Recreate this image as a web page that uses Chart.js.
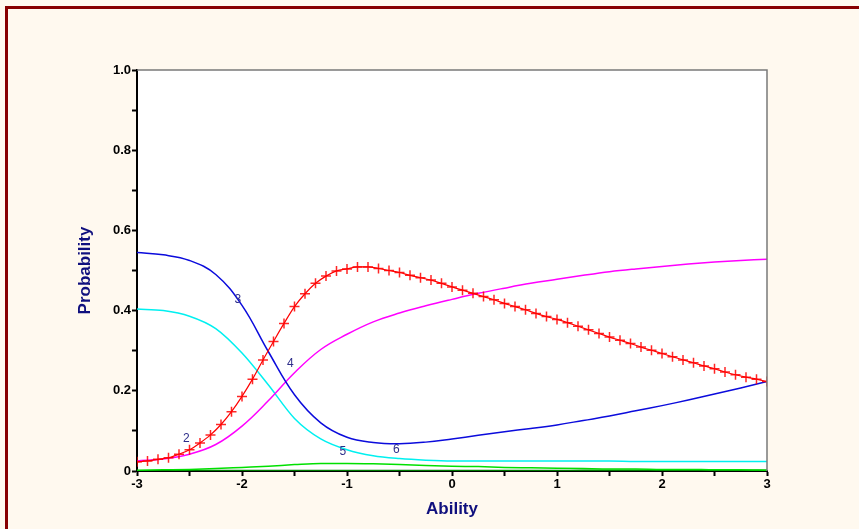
<!DOCTYPE html>
<html>
<head>
<meta charset="utf-8">
<script src="https://cdn.jsdelivr.net/npm/chart.js@4.4.1/dist/chart.umd.min.js"></script>
<style>
  html, body { margin: 0; padding: 0; background: #fff9ef; overflow: hidden; }
  #wrap { position: relative; width: 859px; height: 529px; }
  #frame { position: absolute; left: 5px; top: 6px; width: 900px; height: 600px;
           border-top: 3px solid #880000; border-left: 3px solid #880000; }
  canvas { position: absolute; left: 0; top: 0; }
</style>
</head>
<body>
<div id="wrap">
  <div id="frame"></div>
  <canvas id="chart" width="859" height="529"></canvas>
</div>
<script>
// ability grid for the marked curve (every 0.1)
const abilityFine = [
  -3.0, -2.9, -2.8, -2.7, -2.6, -2.5, -2.4, -2.3, -2.2, -2.1,
  -2.0, -1.9, -1.8, -1.7, -1.6, -1.5, -1.4, -1.3, -1.2, -1.1,
  -1.0, -0.9, -0.8, -0.7, -0.6, -0.5, -0.4, -0.3, -0.2, -0.1,
  0.0, 0.1, 0.2, 0.3, 0.4, 0.5, 0.6, 0.7, 0.8, 0.9,
  1.0, 1.1, 1.2, 1.3, 1.4, 1.5, 1.6, 1.7, 1.8, 1.9,
  2.0, 2.1, 2.2, 2.3, 2.4, 2.5, 2.6, 2.7, 2.8, 2.9, 3.0
];
// ability grid for the plain curves (every 0.25)
const abilityCoarse = [
  -3.0, -2.75, -2.5, -2.25, -2.0, -1.75, -1.5, -1.25, -1.0, -0.75, -0.5, -0.25,
  0.0, 0.25, 0.5, 0.75, 1.0, 1.25, 1.5, 1.75, 2.0, 2.25, 2.5, 2.75, 3.0
];

const cat2 = [
  0.023, 0.025, 0.029, 0.033, 0.042, 0.053, 0.070, 0.090, 0.116, 0.148,
  0.186, 0.229, 0.277, 0.323, 0.368, 0.410, 0.442, 0.468, 0.486, 0.499,
  0.504, 0.509, 0.509, 0.505, 0.500, 0.495, 0.488, 0.482, 0.476, 0.468,
  0.459, 0.451, 0.443, 0.435, 0.427, 0.418, 0.410, 0.402, 0.393, 0.385,
  0.378, 0.370, 0.361, 0.352, 0.343, 0.334, 0.326, 0.318, 0.309, 0.301,
  0.293, 0.285, 0.277, 0.270, 0.262, 0.255, 0.247, 0.240, 0.234, 0.229, 0.223
];
const cat3 = [
  0.545, 0.539, 0.525, 0.490, 0.413, 0.298, 0.190, 0.120, 0.084, 0.071, 0.068, 0.072,
  0.080, 0.089, 0.098, 0.106, 0.115, 0.126, 0.137, 0.150, 0.163, 0.177, 0.192, 0.207, 0.223
];
const cat4 = [
  0.025, 0.030, 0.042, 0.066, 0.112, 0.175, 0.245, 0.303, 0.341, 0.372, 0.394, 0.412,
  0.428, 0.443, 0.456, 0.468, 0.478, 0.488, 0.497, 0.504, 0.510, 0.516, 0.521, 0.525, 0.528
];
const cat5 = [
  0.404, 0.400, 0.386, 0.355, 0.294, 0.215, 0.131, 0.080, 0.053, 0.038, 0.031, 0.027,
  0.025, 0.025, 0.025, 0.025, 0.025, 0.025, 0.025, 0.024, 0.024, 0.024, 0.024, 0.024, 0.024
];
const cat6 = [
  0.002, 0.003, 0.004, 0.006, 0.009, 0.012, 0.016, 0.019, 0.019, 0.018, 0.016, 0.014,
  0.012, 0.011, 0.009, 0.008, 0.007, 0.006, 0.005, 0.005, 0.004, 0.004, 0.003, 0.003, 0.002
];
const cat7 = [
  0.000, 0.000, 0.001, 0.001, 0.001, 0.001, 0.001, 0.001, 0.001, 0.001, 0.001, 0.001,
  0.001, 0.001, 0.001, 0.001, 0.001, 0.002, 0.002, 0.002, 0.002, 0.002, 0.002, 0.002, 0.002
];

// curve number labels placed in data units
const labelText = ['2', '3', '4', '5', '6'];
const labelX = [-2.53, -2.04, -1.54, -1.04, -0.53];
const labelY = [0.081, 0.426, 0.268, 0.047, 0.054];

const toPoints = (xs, ys) => xs.map((x, i) => ({ x, y: ys[i] }));

const areaPlugin = {
  id: 'area',
  beforeDraw(chart) {
    const { ctx, chartArea: a } = chart;
    ctx.save();
    ctx.fillStyle = '#ffffff';
    ctx.fillRect(a.left, a.top, a.right - a.left, a.bottom - a.top);
    ctx.restore();
  },
  afterDatasetsDraw(chart) {
    const { ctx, chartArea: a, scales } = chart;
    ctx.save();
    ctx.strokeStyle = '#7a7a7a';
    ctx.lineWidth = 1.5;
    ctx.beginPath();
    ctx.moveTo(a.left, a.top);
    ctx.lineTo(a.right, a.top);
    ctx.lineTo(a.right, a.bottom);
    ctx.stroke();
    ctx.font = '12px "Liberation Sans", Arial, sans-serif';
    ctx.fillStyle = '#2e2e8a';
    ctx.textAlign = 'center';
    ctx.textBaseline = 'middle';
    labelText.forEach((t, i) => {
      ctx.fillText(t, scales.x.getPixelForValue(labelX[i]), scales.y.getPixelForValue(labelY[i]));
    });
    ctx.restore();
  }
};

const line = (label, xs, ys, color, extra) => Object.assign({
  label,
  data: toPoints(xs, ys),
  borderColor: color,
  backgroundColor: color,
  borderWidth: 1.5,
  pointRadius: 0,
  tension: 0.4,
  fill: false,
}, extra || {});

new Chart(document.getElementById('chart'), {
  type: 'line',
  data: {
    datasets: [
      line('2', abilityFine, cat2, '#ff0000', {
        pointStyle: 'cross', pointRadius: 5, pointBorderWidth: 1.5,
        pointBorderColor: 'rgba(255,0,0,0.85)', borderWidth: 1.2,
        tension: 0, cubicInterpolationMode: 'monotone'
      }),
      line('3', abilityCoarse, cat3, '#0b0bdc'),
      line('4', abilityCoarse, cat4, '#ff00ff'),
      line('5', abilityCoarse, cat5, '#00f0f0', { cubicInterpolationMode: 'monotone' }),
      line('6', abilityCoarse, cat6, '#00e000', { cubicInterpolationMode: 'monotone' }),
      line('7', abilityCoarse, cat7, '#007a00', { cubicInterpolationMode: 'monotone' }),
    ]
  },
  options: {
    responsive: false,
    animation: false,
    devicePixelRatio: 1,
    events: [],
    layout: { padding: { top: 70, right: 92, left: 0, bottom: 0 } },
    plugins: { legend: { display: false }, tooltip: { enabled: false } },
    scales: {
      x: {
        type: 'linear', min: -3, max: 3,
        afterFit: s => { s.height = 58; },
        border: { color: '#000', width: 2 },
        grid: { drawOnChartArea: false, tickLength: 5, tickColor: '#000', tickWidth: 2 },
        ticks: {
          stepSize: 0.5, autoSkip: false, maxRotation: 0, padding: 1, color: '#000',
          font: { family: '"Liberation Sans", Arial, sans-serif', size: 13, weight: 'bold' },
          callback: v => Math.abs(v - Math.round(v)) < 1e-6 ? String(Math.round(v)) : ''
        },
        title: {
          display: true, text: 'Ability', color: '#10107e',
          font: { family: '"Liberation Sans", Arial, sans-serif', size: 17, weight: 'bold' },
          padding: { top: 0, bottom: 9 }
        }
      },
      y: {
        type: 'linear', min: 0, max: 1,
        afterFit: s => { s.width = 137; },
        border: { color: '#000', width: 2 },
        grid: { drawOnChartArea: false, tickLength: 5, tickColor: '#000', tickWidth: 2 },
        ticks: {
          stepSize: 0.1, autoSkip: false, padding: 1, color: '#000',
          font: { family: '"Liberation Sans", Arial, sans-serif', size: 13, weight: 'bold' },
          callback: v => {
            const n = Math.round(v * 10);
            if (n % 2 !== 0) return '';
            return n === 0 ? '0' : (n / 10).toFixed(1);
          }
        },
        title: {
          display: true, text: 'Probability', color: '#10107e',
          font: { family: '"Liberation Sans", Arial, sans-serif', size: 17, weight: 'bold' },
          padding: { top: 75, bottom: 0 }
        }
      }
    }
  },
  plugins: [areaPlugin]
});
</script>
</body>
</html>
